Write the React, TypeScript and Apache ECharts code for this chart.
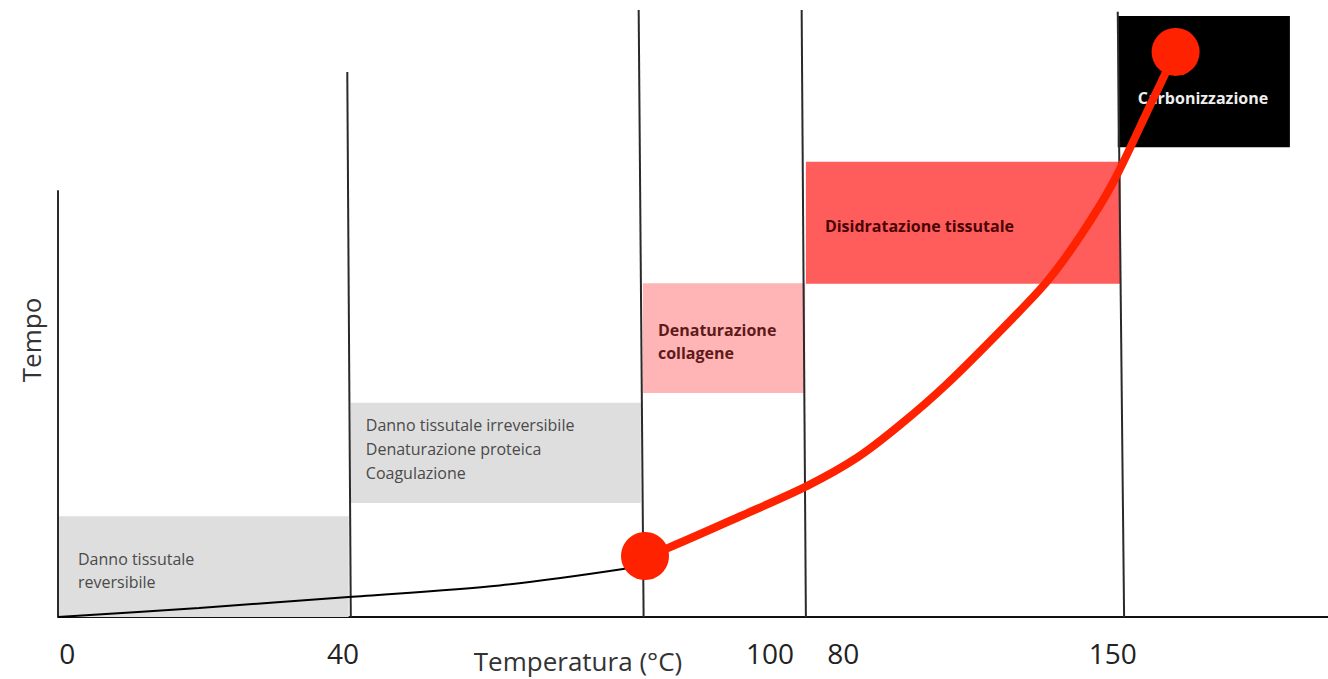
import React, { useEffect, useRef } from "react";
import * as echarts from "echarts";

// X axis tick labels (positions on the temperature scale as drawn)
const tickValues = [1.3, 40.4, 100.9, 111.3, 149.5];
const tickLabels = ["0", "40", "100", "80", "150"];

// Zones (shaded rectangles)
const zoneNames = [
  "Danno tissutale\nreversibile",
  "Danno tissutale irreversibile\nDenaturazione proteica\nCoagulazione",
  "Denaturazione\ncollagene",
  "Disidratazione tissutale",
  "Carbonizzazione",
];
const zoneX0 = [0, 41.5, 82.9, 106.0, 150.2];
const zoneX1 = [41.2, 82.6, 105.9, 150.6, 174.6];
const zoneY0 = [0, 18.8, 36.9, 54.9, 77.4];
const zoneY1 = [16.6, 35.3, 55.0, 75.0, 99.0];

// Vertical divider lines (y axis + temperature thresholds)
const dividerXBottom = [0, 41.5, 83.0, 106.0, 151.1];
const dividerXTop = [0, 41.0, 82.3, 105.4, 150.2];
const dividerTop = [70.3, 89.8, 100, 100, 99.7];

// Curves
const blackCurveX = [0, 20, 41.2, 62.6, 80.1, 83.2];
const blackCurveY = [0, 1.5, 3.3, 5.2, 7.9, 8.8];
const redCurveX = [83.2, 86.7, 96.7, 106.2, 113.2, 119.3, 126.0, 135.3, 140.2, 144.8, 149.5, 154.8, 158.4];
const redCurveY = [10.05, 11.5, 16.6, 21.6, 26.2, 31.6, 38.4, 49.2, 55.3, 62.6, 71.5, 84.3, 93.1];
const pointX = [83.2, 158.4];
const pointY = [10.05, 93.1];

// Styles for zones
const zoneFill = ["#dedede", "#dedede", "#ffb5b5", "#ff5c5c", "#000000"];
const zoneTextColor = ["#4a4a4a", "#4a4a4a", "#5e1a1a", "#4a0606", "#eeeeee"];
const zoneWeight = ["normal", "normal", "bold", "bold", "bold"];
const zonePadLeft = [20, 15, 15, 19, 20];
const zoneDy = [4, -4, 3, 3, 16];
const zoneLineHeight = [23, 24, 23, 23, 23];

const FONT = "'Open Sans', 'Noto Sans', sans-serif";

export default function App() {
  const ref = useRef<HTMLDivElement>(null);

  useEffect(() => {
    if (!ref.current) return;
    const chart = echarts.init(ref.current, undefined, { renderer: "svg" });

    const option: any = {
      animation: false,
      backgroundColor: "#ffffff",
      grid: { left: 58, right: 0, top: 10, bottom: 62 },
      xAxis: {
        type: "value",
        min: 0,
        max: 180,
        splitLine: { show: false },
        axisTick: { show: false },
        axisLine: { show: true, lineStyle: { color: "#111", width: 2 } },
        axisLabel: {
          customValues: tickValues,
          formatter: (v: number) => {
            const i = tickValues.findIndex((t) => Math.abs(t - v) < 1e-6);
            return i >= 0 ? tickLabels[i] : "";
          },
          margin: 22,
          fontSize: 28,
          color: "#222",
          fontFamily: FONT,
        },
      },
      yAxis: {
        type: "value",
        min: 0,
        max: 100,
        show: false,
        splitLine: { show: false },
      },
      graphic: [
        {
          type: "text",
          x: 578,
          y: 661,
          style: {
            text: "Temperatura (°C)",
            fontSize: 26,
            fontFamily: FONT,
            fill: "#333",
            align: "center",
            verticalAlign: "middle",
            textAlign: "center",
            textVerticalAlign: "middle",
          },
        },
        {
          type: "text",
          x: 31,
          y: 340,
          rotation: Math.PI / 2,
          style: {
            text: "Tempo",
            fontSize: 26,
            fontFamily: FONT,
            fill: "#333",
            align: "center",
            verticalAlign: "middle",
            textAlign: "center",
            textVerticalAlign: "middle",
          },
        },
      ],
      series: [
        {
          type: "custom",
          name: "zones",
          clip: false,
          z: 1,
          data: zoneX0.map((x, i) => [x, zoneY0[i], zoneX1[i], zoneY1[i]]),
          renderItem: (params: any, api: any) => {
            const i = params.dataIndex;
            const p0 = api.coord([api.value(0), api.value(3)]);
            const p1 = api.coord([api.value(2), api.value(1)]);
            return {
              type: "group",
              children: [
                {
                  type: "rect",
                  shape: { x: p0[0], y: p0[1], width: p1[0] - p0[0], height: p1[1] - p0[1] },
                  style: { fill: zoneFill[i] },
                },
                {
                  type: "text",
                  x: p0[0] + zonePadLeft[i],
                  y: (p0[1] + p1[1]) / 2 + zoneDy[i],
                  style: {
                    text: zoneNames[i],
                    fill: zoneTextColor[i],
                    fontSize: 16,
                    fontWeight: zoneWeight[i],
                    fontFamily: FONT,
                    lineHeight: zoneLineHeight[i],
                    align: "left",
                    verticalAlign: "middle",
                  },
                },
              ],
            };
          },
        },
        {
          type: "custom",
          name: "dividers",
          clip: false,
          z: 2,
          data: dividerXBottom.map((x, i) => [x, 0, dividerXTop[i], dividerTop[i]]),
          renderItem: (params: any, api: any) => {
            const a = api.coord([api.value(0), api.value(1)]);
            const b = api.coord([api.value(2), api.value(3)]);
            return {
              type: "line",
              shape: { x1: a[0], y1: a[1], x2: b[0], y2: b[1] },
              style: { stroke: "#2a2a2a", lineWidth: 2 },
            };
          },
        },
        {
          type: "line",
          name: "black",
          z: 3,
          smooth: 0.3,
          showSymbol: false,
          data: blackCurveX.map((x, i) => [x, blackCurveY[i]]),
          lineStyle: { color: "#000", width: 2 },
        },
        {
          type: "line",
          name: "red",
          z: 4,
          smooth: 0.3,
          showSymbol: false,
          data: redCurveX.map((x, i) => [x, redCurveY[i]]),
          lineStyle: { color: "#ff2200", width: 8 },
        },
        {
          type: "scatter",
          name: "points",
          z: 5,
          symbolSize: 48,
          data: pointX.map((x, i) => [x, pointY[i]]),
          itemStyle: { color: "#ff2200", opacity: 1 },
        },
      ],
    };

    chart.setOption(option);
    return () => chart.dispose();
  }, []);

  return (
    <div
      ref={ref}
      style={{ position: "fixed", left: 0, top: 0, width: 1328, height: 679, background: "#fff" }}
    />
  );
}
